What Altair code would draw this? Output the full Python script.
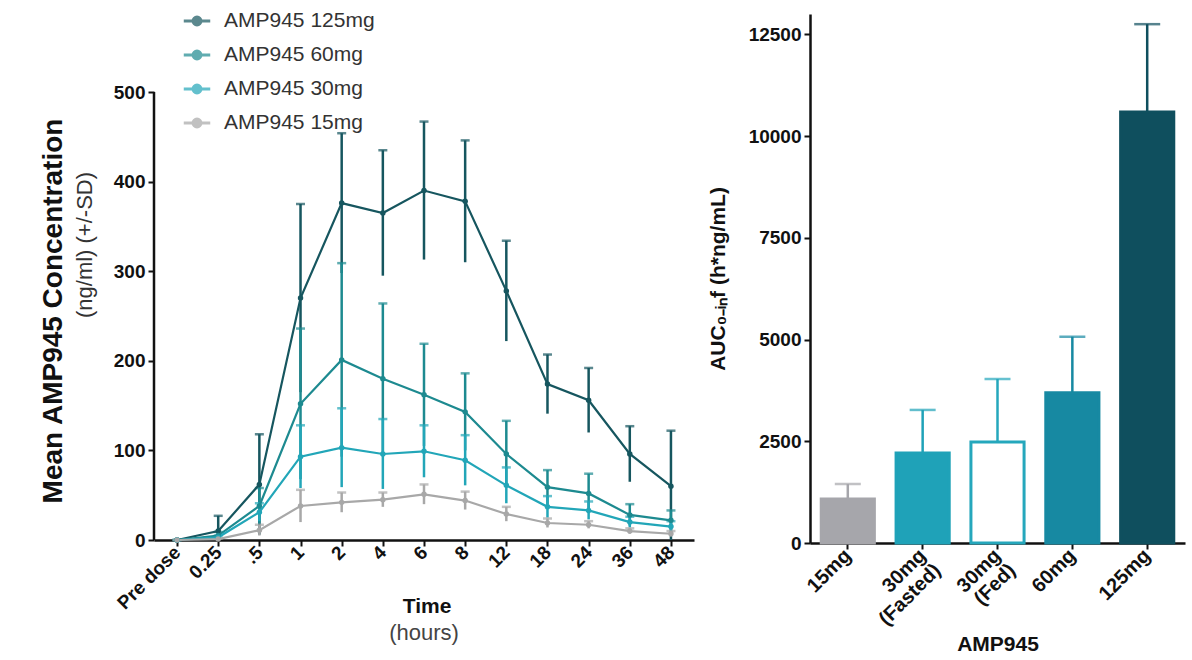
import altair as alt
import pandas as pd

# ---------------- data ----------------
times = ["Pre dose", "0.25", ".5", "1", "2", "4", "6", "8", "12", "18", "24", "36", "48"]
series = ["AMP945 125mg", "AMP945 60mg", "AMP945 30mg", "AMP945 15mg"]
mean_125 = [0, 10, 62, 270, 376, 365, 390, 378, 278, 174, 156, 96, 60]
sd_125 = [0, 17, 56, 105, 78, 70, 77, 68, 56, 33, 36, 31, 62]
mean_60 = [0, 5, 38, 152, 201, 180, 162, 143, 96, 59, 52, 28, 22]
sd_60 = [0, 4, 20, 84, 108, 84, 57, 43, 37, 19, 22, 12, 11]
mean_30 = [0, 3, 31, 93, 103, 96, 99, 89, 61, 37, 33, 20, 15]
sd_30 = [0, 2, 10, 35, 44, 39, 29, 28, 20, 12, 10, 6, 6]
mean_15 = [0, 1, 11, 38, 42, 45, 51, 44, 29, 19, 17, 10, 7]
sd_15 = [0, 1, 6, 18, 11, 8, 11, 10, 8, 5, 4, 3, 3]
line_colors = ["#16565f", "#1d8a90", "#22a6b8", "#a8a8a8"]

groups = ["15mg", "30mg|(Fasted)", "30mg|(Fed)", "60mg", "125mg"]
auc_mean = [1080, 2210, 2480, 3690, 10590]
auc_sd = [370, 1060, 1550, 1380, 2160]
bar_fill = ["#a6a6ab", "#1fa2b8", "#ffffff", "#1789a2", "#0f4f5e"]
bar_stroke = ["#a6a6ab", "#1fa2b8", "#25a7bc", "#1789a2", "#0f4f5e"]

left_titles = ["Mean AMP945 Concentration", "(ng/ml) (+/-SD)", "Time", "(hours)"]
left_ticks = [0, 100, 200, 300, 400, 500]
right_ticks = [0, 2500, 5000, 7500, 10000, 12500]

# ---------------- tables ----------------
rows = []
for name, m, s in [(series[0], mean_125, sd_125), (series[1], mean_60, sd_60),
                   (series[2], mean_30, sd_30), (series[3], mean_15, sd_15)]:
    for t, mv, sv in zip(times, m, s):
        rows.append({"time": t, "series": name, "mean": mv,
                     "lo": max(mv - sv, 0), "hi": mv + sv})
pk = pd.DataFrame(rows)

auc = pd.DataFrame({"group": groups, "auc": auc_mean,
                    "hi": [a + b for a, b in zip(auc_mean, auc_sd)]})

FONT = "Liberation Sans"
INK = "#111"

# left plot area: 540 x 526, y top of scale above 500 so that the two panels share a top edge
LH = 526
ytop = 500 * LH / 448.0

xL = alt.X("time:N", sort=times, scale=alt.Scale(type="point", padding=0.56),
           axis=alt.Axis(title=None, labelAngle=-45, labelAlign="right", labelBaseline="middle",
                         labelFontSize=19, labelFontWeight="bold", labelColor=INK,
                         labelFont=FONT,
                         domainColor=INK, domainWidth=2.5, tickColor=INK,
                         tickWidth=2, tickSize=6, labelPadding=3, grid=False))
yscaleL = alt.Scale(domain=[0, ytop], nice=False)
yL = alt.Y("mean:Q", scale=yscaleL,
           axis=alt.Axis(title=None, values=left_ticks, labelFontSize=19,
                         labelFontWeight="bold", labelColor=INK, labelFont=FONT,
                         domain=False, tickColor=INK, tickWidth=2, tickSize=6,
                         grid=False, labelPadding=3))
legendL = alt.Legend(title=None, orient="none", legendX=28, legendY=-8,
                     symbolType="M-1,0H1M-0.3,0a0.3,0.3 0 1,0 0.6,0a0.3,0.3 0 1,0 -0.6,0Z",
                     symbolStrokeWidth=3, symbolSize=700,
                     labelFontSize=21, labelFont=FONT, labelColor="#333",
                     rowPadding=9, labelOffset=12)
col = alt.Color("series:N", sort=series,
                scale=alt.Scale(domain=series, range=line_colors), legend=legendL)

base = alt.Chart(pk)
lines = base.mark_line(strokeWidth=2.2).encode(x=xL, y=yL, color=col)
pts = base.mark_circle(size=30, opacity=1).encode(x=xL, y=yL, color=col)
rules = base.mark_rule(strokeWidth=2.5).encode(
    x=xL, y=alt.Y("lo:Q", scale=yscaleL), y2="hi:Q", color=col)
caps = base.mark_tick(size=9, thickness=2.5, orient="horizontal").encode(
    x=xL, y=alt.Y("hi:Q", scale=yscaleL), color=col)

# y axis line from 0 to 500 only
axdf = pd.DataFrame({"lo": [left_ticks[0]], "hi": [left_ticks[-1]]})
axline = alt.Chart(axdf).mark_rule(strokeWidth=2.5, color=INK).encode(
    x=alt.value(0), y=alt.Y("lo:Q", scale=yscaleL), y2="hi:Q")

tdf = pd.DataFrame({"t": left_titles})
t1 = alt.Chart(tdf).transform_filter(alt.datum.t == left_titles[0]).mark_text(
    angle=270, font=FONT, fontSize=28, fontWeight="bold", color=INK).encode(
    text="t:N", x=alt.value(-100), y=alt.value(297))
t2 = alt.Chart(tdf).transform_filter(alt.datum.t == left_titles[1]).mark_text(
    angle=270, font=FONT, fontSize=22, color="#333").encode(
    text="t:N", x=alt.value(-69), y=alt.value(231))
t3 = alt.Chart(tdf).transform_filter(alt.datum.t == left_titles[2]).mark_text(
    font=FONT, fontSize=21, fontWeight="bold", color=INK).encode(
    text="t:N", x=alt.value(273), y=alt.value(593))
t4 = alt.Chart(tdf).transform_filter(alt.datum.t == left_titles[3]).mark_text(
    font=FONT, fontSize=22, color="#444").encode(
    text="t:N", x=alt.value(270), y=alt.value(619))

left = alt.layer(axline, rules, caps, lines, pts, t1, t2, t3, t4).properties(width=540, height=LH)

# ---------------- right chart ----------------
xR = alt.X("group:N", sort=groups,
           scale=alt.Scale(paddingInner=0.29, paddingOuter=0.15),
           axis=alt.Axis(title="AMP945", titleFontSize=21, titleFontWeight="bold", titleFont=FONT,
                         titleColor=INK, titlePadding=5,
                         labelAngle=-45, labelAlign="right", labelBaseline="middle",
                         labelExpr="split(datum.label, '|')", labelLineHeight=21,
                         labelFontSize=20, labelFontWeight="bold", labelColor=INK,
                         labelFont=FONT,
                         domainColor=INK, domainWidth=2.5, tickColor=INK,
                         tickWidth=2, tickSize=6, labelPadding=3))
yscaleR = alt.Scale(domain=[0, 13000], nice=False)
yR = alt.Y("auc:Q", scale=yscaleR,
           axis=alt.Axis(title="AUC₀₋ᵢₙf (h*ng/mL)", titleFontSize=21, titleFontWeight="bold",
                         titleFont=FONT, titleColor=INK, titlePadding=20,
                         values=right_ticks, format="d",
                         labelFontSize=19, labelFontWeight="bold", labelColor=INK,
                         labelFont=FONT,
                         domainColor=INK, domainWidth=2.5, tickColor=INK,
                         tickWidth=2, tickSize=6, grid=False, labelPadding=3))
fillS = alt.Fill("group:N", scale=alt.Scale(domain=groups, range=bar_fill), legend=None)
strokeS = alt.Stroke("group:N", scale=alt.Scale(domain=groups, range=bar_stroke), legend=None)
colS = alt.Color("group:N", scale=alt.Scale(domain=groups, range=bar_stroke), legend=None)

rb = alt.Chart(auc)
bars = rb.mark_bar(strokeWidth=3).encode(x=xR, y=yR, fill=fillS, stroke=strokeS)
erule = rb.mark_rule(strokeWidth=2.5).encode(
    x=xR, y=alt.Y("auc:Q", scale=yscaleR), y2="hi:Q", color=colS)
ecap = rb.mark_tick(size=26, thickness=2.5, orient="horizontal").encode(
    x=xR, y=alt.Y("hi:Q", scale=yscaleR), color=colS)
right = alt.layer(erule, bars, ecap).properties(width=375, height=529)

chart = alt.hconcat(left, right, spacing=13).resolve_scale(
    color="independent", y="independent", x="independent"
).resolve_legend(color="independent").properties(
    padding={"left": 40, "top": 6, "right": 5, "bottom": 5}
).configure(font=FONT, background="white").configure_view(stroke=None)

chart.save("out.html", embed_options={"renderer": "svg", "actions": False})
